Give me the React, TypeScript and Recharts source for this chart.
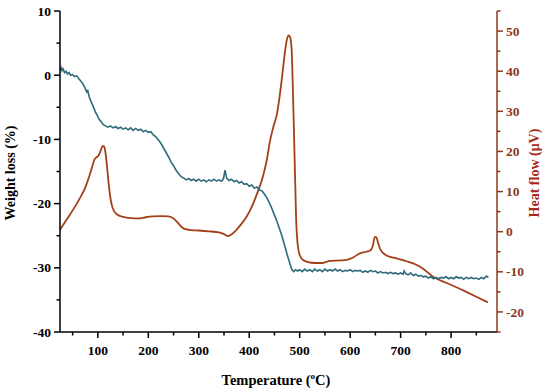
import React from 'react';
import { ComposedChart, Line, XAxis, YAxis } from 'recharts';

const FONT = '"Liberation Serif", "Times New Roman", serif';

// Temperature ticks (every 50, labels every 100)
const tempTicks = [50, 100, 150, 200, 250, 300, 350, 400, 450, 500, 550, 600, 650, 700, 750, 800, 850];
const weightTicks = [-40, -35, -30, -25, -20, -15, -10, -5, 0, 5, 10];
const heatTicks = [-25, -20, -15, -10, -5, 0, 5, 10, 15, 20, 25, 30, 35, 40, 45, 50, 55];

// TGA: [temperature °C, weight loss %]
const tgaSeries: [number, number][] = [
  [25, 0.8], [27, 1.2], [29, 0.7], [31, 1.0], [34, 0.4], [37, 0.6], [40, 0.2], [43, 0.4], [46, 0.0],
  [50, 0.1], [54, -0.2], [58, -0.1], [62, -0.5], [66, -0.9], [70, -1.3], [74, -1.9], [78, -2.6],
  [80, -2.4], [83, -3.4], [87, -4.2], [91, -4.9], [95, -5.7], [99, -6.3], [103, -6.9], [107, -7.3],
  [111, -7.7], [115, -7.9], [120, -8.1], [125, -7.9], [130, -8.2], [135, -8.0], [140, -8.3],
  [145, -8.1], [150, -8.4], [155, -8.2], [160, -8.5], [165, -8.2], [170, -8.6], [175, -8.3],
  [180, -8.6], [185, -8.4], [190, -8.8], [195, -8.6], [200, -8.9], [205, -8.8], [210, -9.3],
  [215, -9.6], [220, -10.1], [225, -10.6], [230, -11.3], [235, -12.0], [240, -12.7], [245, -13.5],
  [250, -14.1], [255, -14.8], [260, -15.3], [265, -15.8], [270, -16.0], [275, -16.3], [280, -16.1],
  [285, -16.4], [290, -16.2], [295, -16.5], [300, -16.2], [305, -16.5], [310, -16.3], [315, -16.6],
  [320, -16.3], [325, -16.5], [330, -16.2], [335, -16.5], [340, -16.3], [345, -16.5], [349, -16.1],
  [352, -14.8], [355, -16.0], [360, -16.4], [365, -16.2], [370, -16.6], [375, -16.4], [380, -16.8],
  [385, -16.6], [390, -17.0], [395, -16.9], [400, -17.3], [405, -17.1], [410, -17.6], [415, -17.4],
  [420, -17.9], [425, -18.0], [430, -18.5], [435, -19.1], [440, -19.9], [445, -20.8], [450, -21.8],
  [455, -22.8], [460, -23.9], [465, -25.1], [470, -26.5], [475, -27.9], [480, -29.2], [484, -30.2],
  [488, -30.6], [492, -30.3], [496, -30.5], [500, -30.3], [505, -30.6], [510, -30.2], [515, -30.5],
  [520, -30.3], [525, -30.6], [530, -30.2], [535, -30.5], [540, -30.3], [545, -30.6], [550, -30.2],
  [555, -30.5], [560, -30.3], [565, -30.5], [570, -30.2], [575, -30.5], [580, -30.3], [585, -30.6],
  [590, -30.4], [595, -30.5], [600, -30.3], [605, -30.6], [610, -30.4], [615, -30.5], [620, -30.4],
  [625, -30.7], [630, -30.5], [635, -30.7], [640, -30.4], [645, -30.6], [650, -30.5], [655, -30.8],
  [660, -30.6], [665, -30.8], [670, -30.7], [675, -30.9], [680, -30.7], [685, -30.9], [690, -30.8],
  [695, -31.0], [700, -30.8], [705, -31.0], [707, -30.5], [710, -30.9], [715, -31.1], [720, -30.8],
  [725, -31.2], [730, -31.0], [735, -31.3], [740, -31.2], [745, -31.4], [750, -31.3], [755, -31.6],
  [760, -31.4], [765, -31.7], [770, -31.5], [775, -31.7], [780, -31.5], [785, -31.6], [790, -31.4],
  [795, -31.7], [800, -31.5], [805, -31.7], [810, -31.4], [815, -31.6], [820, -31.5], [825, -31.8],
  [830, -31.5], [835, -31.7], [840, -31.5], [845, -31.7], [850, -31.6], [855, -31.8], [860, -31.5],
  [865, -31.7], [870, -31.3], [874, -31.5],
];

// DSC: [temperature °C, heat flow µV]
const dscSeries: [number, number][] = [
  [25, 0.5], [35, 2.4], [45, 4.3], [55, 6.3], [65, 8.5], [75, 11.0], [83, 13.8], [89, 16.3],
  [93, 17.9], [97, 18.5], [101, 18.9], [105, 20.0], [108, 21.0], [110, 21.4], [112, 21.3],
  [115, 19.8], [118, 16.5], [121, 12.5], [124, 9.2], [127, 7.0], [131, 5.4], [136, 4.5], [142, 4.0],
  [150, 3.7], [165, 3.4], [180, 3.3], [195, 3.6], [210, 3.8], [225, 3.9], [240, 3.8], [250, 3.3],
  [258, 2.3], [265, 1.3], [272, 0.7], [285, 0.4], [300, 0.3], [320, 0.1], [340, -0.2], [350, -0.6],
  [358, -1.1], [366, -0.6], [375, 0.5], [385, 2.0], [395, 3.8], [405, 6.2], [415, 9.3], [427, 13.7],
  [435, 18.0], [441, 22.5], [448, 26.2], [454, 28.8], [460, 33.5], [465, 38.5], [470, 44.0],
  [474, 47.5], [478, 48.9], [481, 48.5], [484, 45.5], [487, 33.0], [490, 18.0], [493, 3.0],
  [496, -3.2], [500, -5.8], [506, -7.0], [515, -7.5], [530, -7.8], [545, -7.8], [560, -7.3],
  [575, -7.2], [590, -7.1], [605, -6.5], [619, -5.4], [632, -5.0], [640, -4.7], [645, -3.5],
  [649, -1.3], [652, -1.4], [655, -2.6], [659, -4.2], [665, -5.3], [675, -6.1], [690, -6.6],
  [705, -7.1], [715, -7.5], [725, -7.9], [735, -8.5], [745, -9.3], [755, -10.3], [765, -11.3],
  [780, -12.2], [797, -13.1], [815, -14.1], [830, -15.0], [850, -16.2], [873, -17.6],
];

const tgaData = tgaSeries.map(([t, v]) => ({ t, w: v }));
const dscData = dscSeries.map(([t, v]) => ({ t, h: v }));

const TGA_COLOR = '#2E6B7A';
const DSC_COLOR = '#A3401A';
const RIGHT_AXIS_COLOR = '#8B3A1E';
const RIGHT_LABEL_COLOR = '#A52A1A';

const LeftTick = (props: any) => {
  const { x, y, payload } = props;
  const v = payload.value;
  const major = v % 10 === 0;
  return (
    <g>
      <line x1={x} x2={x - (major ? 6 : 3.5)} y1={y} y2={y} stroke="#000" strokeWidth={1.5} />
      {major && (
        <text x={x - 9} y={y} dy={4.6} textAnchor="end" fontFamily={FONT} fontWeight="bold" fontSize={13.5} fill="#000">
          {v}
        </text>
      )}
    </g>
  );
};

const RightTick = (props: any) => {
  const { x, y, payload } = props;
  const v = payload.value;
  const major = v % 10 === 0;
  return (
    <g>
      <line x1={x} x2={x + (major ? 6 : 3.5)} y1={y} y2={y} stroke={RIGHT_AXIS_COLOR} strokeWidth={1.5} />
      {major && (
        <text x={x + 9} y={y} dy={4.6} textAnchor="start" fontFamily={FONT} fontWeight="bold" fontSize={13.5} fill={RIGHT_AXIS_COLOR}>
          {v}
        </text>
      )}
    </g>
  );
};

const BottomTick = (props: any) => {
  const { x, y, payload } = props;
  const v = payload.value;
  const major = v % 100 === 0;
  return (
    <g>
      <line x1={x} x2={x} y1={y} y2={y + (major ? 6 : 3.5)} stroke="#000" strokeWidth={1.5} />
      {major && (
        <text x={x} y={y + 23} textAnchor="middle" fontFamily={FONT} fontWeight="bold" fontSize={13.5} fill="#000">
          {v}
        </text>
      )}
    </g>
  );
};

const leftLabel = () => (
  <text x={15} y={173} transform="rotate(-90 15 173)" textAnchor="middle" fontFamily={FONT} fontWeight="bold" fontSize={14} fill="#000">
    Weight loss (%)
  </text>
);

const rightLabel = () => (
  <text x={539} y={173} transform="rotate(-90 539 173)" textAnchor="middle" fontFamily={FONT} fontWeight="bold" fontSize={14} fill={RIGHT_LABEL_COLOR}>
    Heat flow (μV)
  </text>
);

const bottomLabel = () => (
  <text x={276} y={385} textAnchor="middle" fontFamily={FONT} fontWeight="bold" fontSize={14.5} fill="#000">
    Temperature (<tspan dy={-6} fontSize={9}>o</tspan><tspan dy={6}>C)</tspan>
  </text>
);

export default function App() {
  return (
    <div style={{ position: 'absolute', left: 0, top: 0 }}>
      <ComposedChart width={550} height={392} margin={{ top: 11, right: 0, bottom: 0, left: 0 }}>
        <XAxis
          dataKey="t"
          type="number"
          domain={[25, 891]}
          ticks={tempTicks}
          interval={0}
          height={60}
          tickSize={0}
          tickMargin={0}
          tickLine={false}
          tick={<BottomTick />}
          axisLine={{ stroke: '#000', strokeWidth: 1.5 }}
          label={{ content: bottomLabel }}
        />
        <XAxis
          xAxisId="top"
          orientation="top"
          type="number"
          domain={[25, 891]}
          height={0}
          tick={false}
          tickLine={false}
          axisLine={{ stroke: '#000', strokeWidth: 1.5 }}
        />
        <YAxis
          yAxisId="left"
          type="number"
          domain={[-40, 10]}
          ticks={weightTicks}
          interval={0}
          width={60}
          tickSize={0}
          tickMargin={0}
          tickLine={false}
          tick={<LeftTick />}
          axisLine={{ stroke: '#000', strokeWidth: 1.5 }}
          label={{ content: leftLabel }}
        />
        <YAxis
          yAxisId="right"
          orientation="right"
          type="number"
          domain={[-25, 55]}
          ticks={heatTicks}
          interval={0}
          width={53}
          tickSize={0}
          tickMargin={0}
          tickLine={false}
          tick={<RightTick />}
          axisLine={{ stroke: RIGHT_AXIS_COLOR, strokeWidth: 1.5 }}
          label={{ content: rightLabel }}
        />
        <Line
          yAxisId="right"
          data={dscData}
          dataKey="h"
          type="monotone"
          stroke={DSC_COLOR}
          strokeWidth={1.8}
          dot={false}
          activeDot={false}
          isAnimationActive={false}
        />
        <Line
          yAxisId="left"
          data={tgaData}
          dataKey="w"
          type="linear"
          stroke={TGA_COLOR}
          strokeWidth={1.6}
          dot={false}
          activeDot={false}
          isAnimationActive={false}
        />
      </ComposedChart>
    </div>
  );
}
